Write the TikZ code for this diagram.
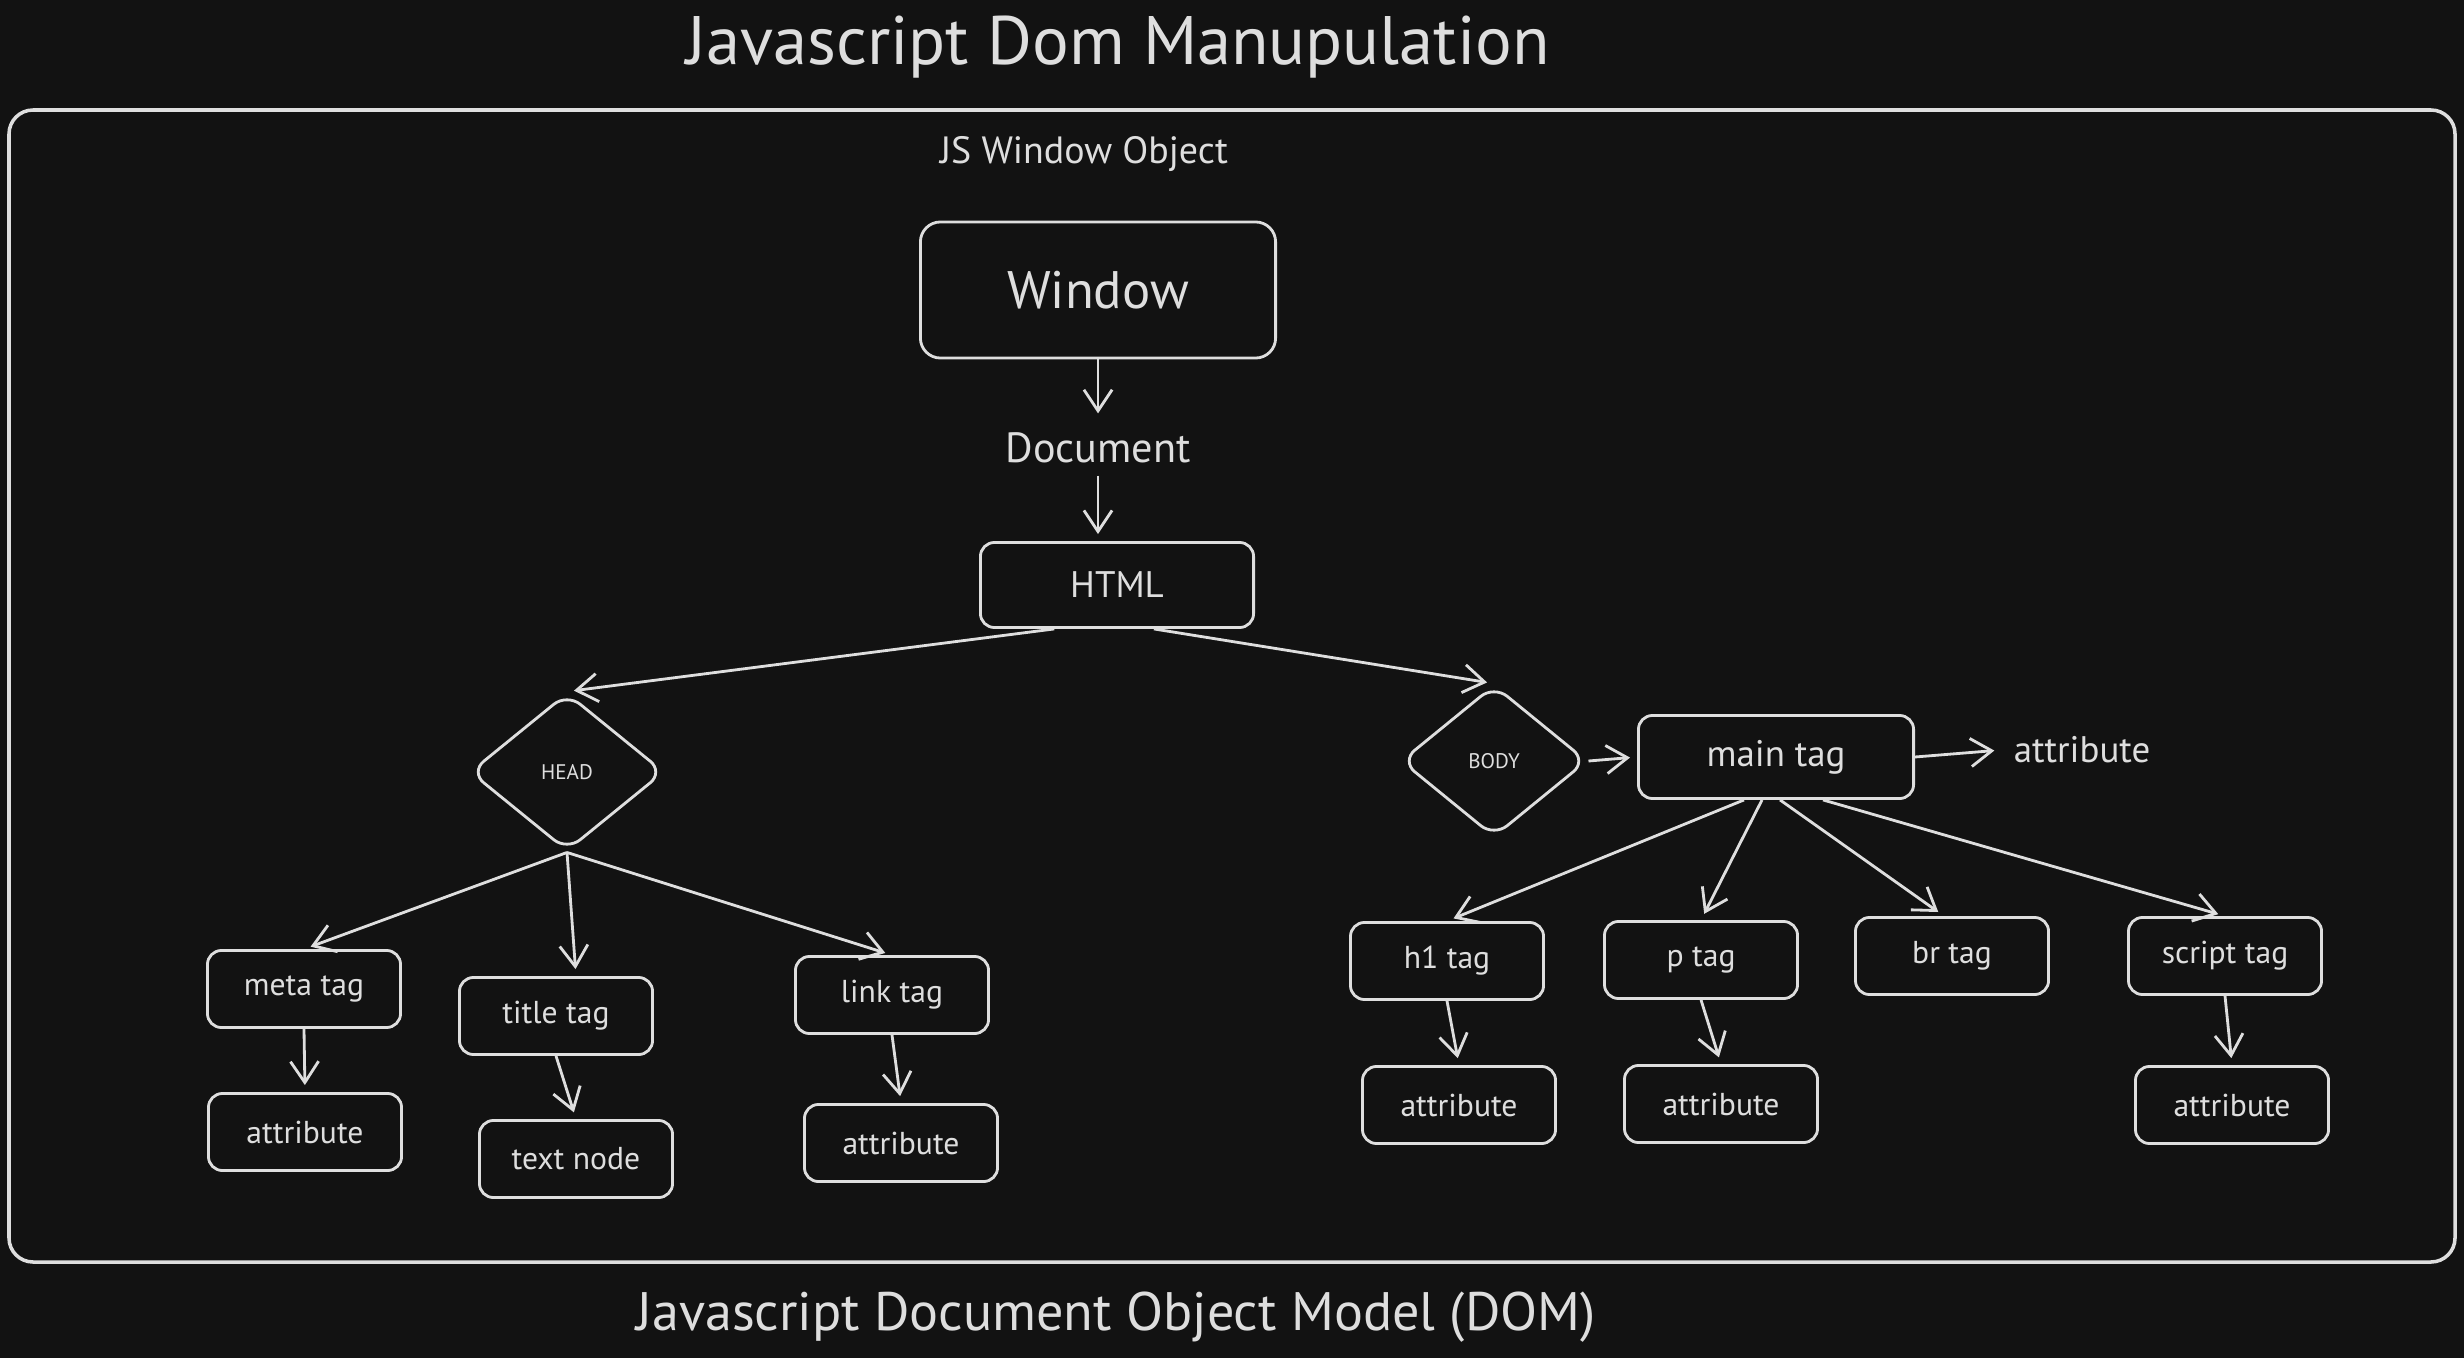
\documentclass[tikz,border=0pt]{standalone}
\usepackage{fontspec}
\setmainfont{PT Sans}
\usetikzlibrary{shapes.geometric,arrows.meta}

\definecolor{bgcol}{HTML}{121212}
\definecolor{ink}{HTML}{DEDEDE}

\tikzset{
  tagbox/.style={draw=ink, line width=0.8pt, rounded corners=0.14cm,
    minimum width=1.93cm, minimum height=0.77cm, inner sep=0pt,
    font=\fontsize{9}{11}\selectfont},
  tagdia/.style={draw=ink, line width=0.8pt, diamond, rounded corners=0.17cm,
    inner sep=0pt, font=\fontsize{6}{7}\selectfont},
  edge/.style={draw=ink, line width=0.8pt, shorten >=2pt,
    -{Straight Barb[length=6pt,width=8pt]}}
}

\begin{document}
\begin{tikzpicture}[x=0.01cm,y=-0.01cm]
    \begin{scope}[every node/.style={text=ink}]

\fill [bgcol] (0,0) rectangle (2464,1358);
\useasboundingbox (0,0) rectangle (2464,1358);

\draw [ink, line width=1pt, rounded corners=0.24cm] (9,110) rectangle (2455,1262);

\node (heading)    at (1118,  47) {\fontsize{19.5}{22}\selectfont Javascript Dom Manupulation};
\node (jswin)      at (1084, 154) {\fontsize{10.8}{12}\selectfont JS Window Object};
\node [tagbox, minimum width=3.55cm, minimum height=1.36cm, rounded corners=0.2cm,
       font=\fontsize{15}{18}\selectfont]
                   (window) at (1098, 290) {Window};
\node (doc)        at (1098, 448) {\fontsize{12}{14}\selectfont Document};
\node [tagbox, minimum width=2.73cm, minimum height=0.85cm, font=\fontsize{10.5}{12}\selectfont]
                   (html)   at (1117, 585) {HTML};

\node [tagdia, minimum width=1.94cm, minimum height=1.58cm] (head) at ( 567, 772) {HEAD};
\node [tagdia, minimum width=1.86cm, minimum height=1.52cm] (body) at (1494, 761) {BODY};

\node [tagbox, minimum width=2.75cm, minimum height=0.83cm, font=\fontsize{10.5}{12}\selectfont]
                   (main)     at (1776, 757) {main tag};
\node [font=\fontsize{10.5}{12}\selectfont]
                   (mainattr) at (2082, 750) {attribute};

% head side
\node [tagbox] (meta)       at ( 304, 989) {meta tag};
\node [tagbox] (metaattr)   at ( 305,1132) {attribute};
\node [tagbox] (titletag)   at ( 556,1016) {title tag};
\node [tagbox] (textnode)   at ( 576,1159) {text node};
\node [tagbox] (linktag)    at ( 892, 995) {link tag};
\node [tagbox] (linkattr)   at ( 901,1143) {attribute};

% body side
\node [tagbox] (h1tag)      at (1447, 961) {h1 tag};
\node [tagbox] (h1attr)     at (1459,1105) {attribute};
\node [tagbox] (ptag)       at (1701, 960) {p tag};
\node [tagbox] (pattr)      at (1721,1104) {attribute};
\node [tagbox] (brtag)      at (1952, 956) {br tag};
\node [tagbox] (scripttag)  at (2225, 956) {script tag};
\node [tagbox] (scriptattr) at (2232,1105) {attribute};

\node (caption)    at (1116,1317) {\fontsize{15.4}{18}\selectfont Javascript Document Object Model (DOM)};

\draw [edge] (window.south) -- (doc.north);
\draw [edge] (doc.south) -- (doc.south |- html.north);
\draw [edge] (html.215) -- (head.north);
\draw [edge] (html.310) -- (body.north);
\draw [edge] (body.east) -- (main.west);
\draw [edge] (main.east) -- (mainattr.west);

\draw [edge] (head.south) -- (meta.north);
\draw [edge] (head.south) -- ([xshift=0.2cm]titletag.north);
\draw [edge] (head.south) -- (linktag.north);
\draw [edge] (meta.south) -- (metaattr.north);
\draw [edge] (titletag.south) -- (textnode.north);
\draw [edge] (linktag.south) -- (linkattr.north);

\draw [edge] ([xshift=-0.32cm]main.south) -- (h1tag.north);
\draw [edge] ([xshift=-0.14cm]main.south) -- (ptag.north);
\draw [edge] ([xshift=0.04cm]main.south)  -- ([xshift=-0.08cm]brtag.north);
\draw [edge] ([xshift=0.47cm]main.south)  -- (scripttag.north);
\draw [edge] (h1tag.south) -- (h1attr.north);
\draw [edge] (ptag.south) -- (pattr.north);
\draw [edge] (scripttag.south) -- (scriptattr.north);

    \end{scope}
\end{tikzpicture}
\end{document}
